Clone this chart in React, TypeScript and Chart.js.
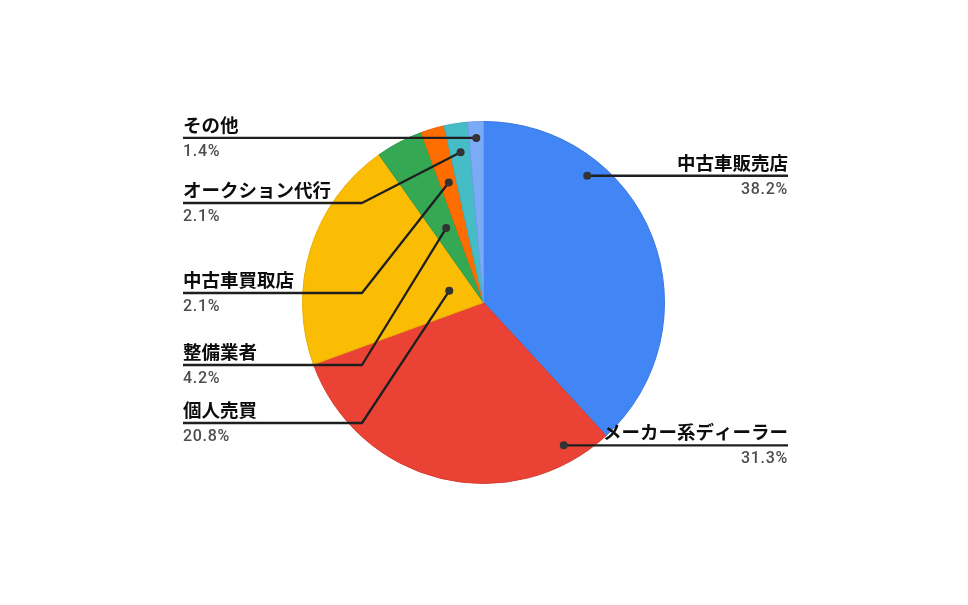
import { useEffect, useRef } from "react";
import { Chart, registerables, Plugin } from "chart.js";

Chart.register(...registerables);

// slice order is clockwise from 12 o'clock
const categories = [
  "中古車販売店",
  "メーカー系ディーラー",
  "個人売買",
  "整備業者",
  "中古車買取店",
  "オークション代行",
  "その他",
];
const shares = [38.2, 31.3, 20.8, 4.2, 2.1, 2.1, 1.4];
const sliceColors = ["#4285f4", "#ea4335", "#fbbc04", "#34a853", "#ff6d01", "#46bdc6", "#7baaf7"];
const sliceEdges = ["#3b78e0", "#d63c2f", "#e9ae03", "#2f9a4b", "#ec6400", "#3fadb6", "#6f9ce6"];

// where each leader line starts inside its slice, and which side its label goes to
const labelSide = ["right", "right", "left", "left", "left", "left", "left"];
const anchorAngle = [0.286, 0.118, 0.52, 0.57, 0.53, 0.52, 0.5];
const anchorRadius = [0.905, 0.905, 0.2, 0.46, 0.69, 0.84, 0.91];
const leftLabelY = [0, 0, 423, 365, 293, 203, 137];

const LEFT_X = 183;
const BEND_X = 362;
const RIGHT_X = 788;

const leaderLabels: Plugin<"pie"> = {
  id: "leaderLabels",
  afterDraw(chart) {
    const ctx = chart.ctx;
    const meta = chart.getDatasetMeta(0);
    ctx.save();
    meta.data.forEach((arc, i) => {
      const { x, y, startAngle, endAngle, outerRadius } = (arc as any).getProps(
        ["x", "y", "startAngle", "endAngle", "outerRadius"],
        true
      );
      const a = startAngle + (endAngle - startAngle) * anchorAngle[i];
      const r = outerRadius * anchorRadius[i];
      const px = x + Math.cos(a) * r;
      const py = y + Math.sin(a) * r;

      ctx.strokeStyle = "#1f1f1f";
      ctx.lineWidth = 2.3;
      ctx.lineJoin = "round";
      ctx.beginPath();
      let ly: number;
      if (labelSide[i] === "right") {
        ly = py;
        ctx.moveTo(px, py);
        ctx.lineTo(RIGHT_X, py);
      } else {
        ly = i === 6 ? py : leftLabelY[i];
        ctx.moveTo(LEFT_X, ly);
        ctx.lineTo(BEND_X, ly);
        ctx.lineTo(px, py);
      }
      ctx.stroke();

      ctx.fillStyle = "#333";
      ctx.beginPath();
      ctx.arc(px, py, 4, 0, Math.PI * 2);
      ctx.fill();

      const tx = labelSide[i] === "right" ? RIGHT_X : LEFT_X;
      ctx.textAlign = labelSide[i] === "right" ? "right" : "left";
      ctx.textBaseline = "alphabetic";
      ctx.fillStyle = "#0d0d0d";
      ctx.font = "bold 18.5px 'Noto Sans CJK JP'";
      ctx.fillText(categories[i], tx, ly - 6);

      ctx.fillStyle = "#4d4d4d";
      ctx.font = "500 16px Roboto";
      (ctx as any).letterSpacing = "0.7px";
      ctx.fillText(shares[i].toFixed(1) + "%", tx, ly + 18);
      (ctx as any).letterSpacing = "0px";
    });
    ctx.restore();
  },
};

const App = () => {
  const canvasRef = useRef<HTMLCanvasElement | null>(null);
  const chartRef = useRef<Chart<"pie"> | null>(null);

  useEffect(() => {
    if (!canvasRef.current) return;
    if (chartRef.current) chartRef.current.destroy();

    chartRef.current = new Chart(canvasRef.current, {
      type: "pie",
      data: {
        labels: categories,
        datasets: [
          {
            data: shares,
            backgroundColor: sliceColors,
            borderColor: sliceEdges,
            borderWidth: 1,
          },
        ],
      },
      options: {
        animation: false,
        responsive: true,
        maintainAspectRatio: false,
        layout: { padding: { top: 121, bottom: 121, left: 302, right: 303 } },
        plugins: {
          legend: { display: false },
          tooltip: { enabled: false },
        },
      },
      plugins: [leaderLabels],
    });

    return () => {
      chartRef.current?.destroy();
      chartRef.current = null;
    };
  }, []);

  return (
    <div style={{ position: "absolute", left: 0, top: 0, width: 968, height: 605, background: "#fff" }}>
      <canvas ref={canvasRef} />
    </div>
  );
};

export default App;
